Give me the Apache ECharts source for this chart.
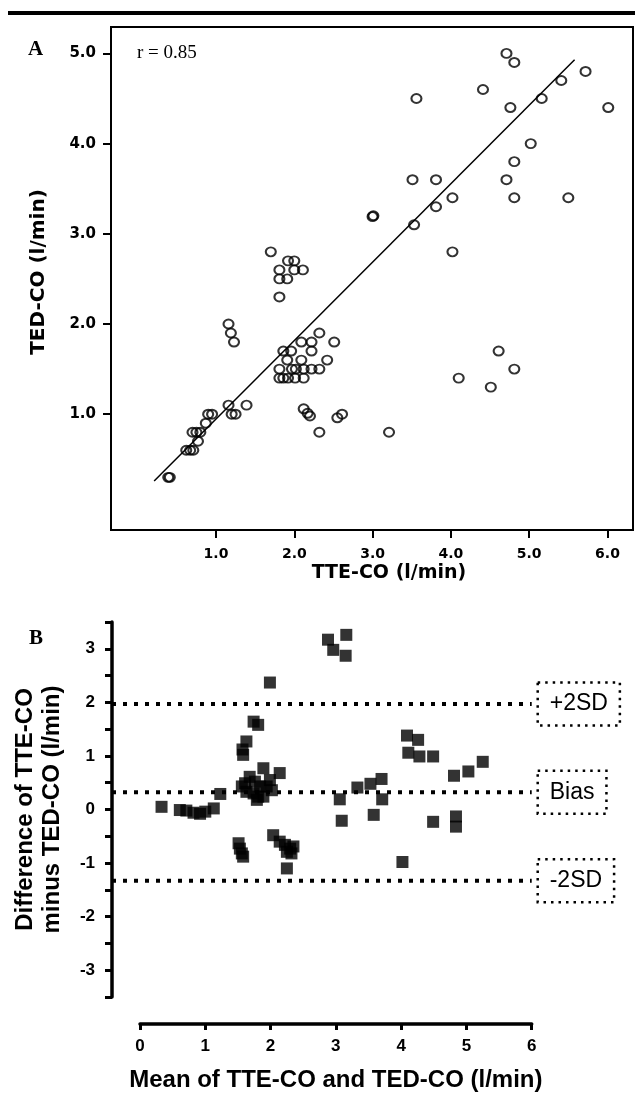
<!DOCTYPE html>
<html>
<head>
<meta charset="utf-8">
<script src="https://cdn.jsdelivr.net/npm/echarts@6/dist/echarts.min.js"></script>
<style>
html,body{margin:0;padding:0;background:#fff;}
#chart{width:635px;height:1095px;}
</style>
</head>
<body>
<div id="chart"></div>
<script>
// ---------- Panel A: TTE-CO vs TED-CO ----------
const tteA = [4.71,4.81,5.72,5.41,4.41,3.56,5.16,4.76,6.01,5.02,4.81,3.51,3.81,4.71,4.02,4.81,5.50,3.81,3.53,3.01,3.00,4.02,
  1.70,1.92,2.00,1.81,2.00,2.11,1.81,1.91,1.81,
  1.16,1.19,1.23,
  2.32,2.09,2.22,2.51,1.86,1.96,2.22,1.91,2.09,2.42,1.81,1.97,2.02,2.12,2.22,2.32,1.81,1.86,1.92,2.01,2.12,
  2.12,2.17,2.20,2.32,2.55,2.61,3.21,
  4.10,4.51,4.61,4.81,
  1.16,1.20,1.25,1.39,0.90,0.95,0.87,0.70,0.75,0.80,0.77,0.62,0.67,0.71,0.39,0.41];
const tedA = [5.0,4.9,4.8,4.7,4.6,4.5,4.5,4.4,4.4,4.0,3.8,3.6,3.6,3.6,3.4,3.4,3.4,3.3,3.1,3.2,3.19,2.8,
  2.8,2.7,2.7,2.6,2.6,2.6,2.5,2.5,2.3,
  2.0,1.9,1.8,
  1.9,1.8,1.8,1.8,1.7,1.7,1.7,1.6,1.6,1.6,1.5,1.5,1.5,1.5,1.5,1.5,1.4,1.4,1.4,1.4,1.4,
  1.06,1.01,0.98,0.8,0.96,1.0,0.8,
  1.4,1.3,1.7,1.5,
  1.1,1.0,1.0,1.1,1.0,1.0,0.9,0.8,0.8,0.8,0.7,0.6,0.6,0.6,0.3,0.3];
const fitX = [0.21, 5.58];
const fitY = [0.26, 4.93];
const xTicksA = [1,2,3,4,5,6];
const yTicksA = [1,2,3,4,5];
const corrText = 'r = 0.85';

// ---------- Panel B: Bland-Altman ----------
const meanB = [0.33,0.61,0.71,0.82,0.92,1.00,1.13,1.23,1.99,1.74,1.81,1.63,1.57,1.58,1.89,2.14,
  1.61,1.68,1.76,1.84,1.94,1.63,1.74,1.79,1.89,2.02,1.99,1.56,1.81,
  1.51,1.53,1.56,1.58,2.04,2.14,2.22,2.30,2.35,2.25,2.32,2.25,
  2.88,3.16,2.96,3.15,4.09,4.26,4.11,4.28,4.49,4.81,5.03,5.25,
  3.06,3.09,3.33,3.53,3.70,3.71,3.58,4.49,4.84,4.84,4.02];
const diffB = [0.05,-0.01,-0.02,-0.06,-0.08,-0.04,0.02,0.29,2.37,1.64,1.58,1.27,1.12,1.02,0.77,0.68,
  0.49,0.61,0.52,0.43,0.43,0.33,0.30,0.18,0.24,0.36,0.55,0.43,0.24,
  -0.63,-0.73,-0.82,-0.88,-0.48,-0.60,-0.66,-0.73,-0.69,-0.79,-0.82,-1.10,
  3.17,3.26,2.98,2.87,1.38,1.30,1.06,0.99,0.99,0.63,0.71,0.89,
  0.19,-0.21,0.41,0.48,0.57,0.19,-0.10,-0.23,-0.13,-0.32,-0.98];
const refNames = ['+2SD','Bias','-2SD'];
const refValues = [1.97, 0.32, -1.33];
const refXRange = [-0.43, 6.0];

const chart = echarts.init(document.getElementById('chart'), null, {renderer:'canvas'});

const pairs = (a,b) => a.map((v,i)=>[v,b[i]]);
const dv = 'DejaVu Sans';
const lib = 'Liberation Sans';

// reference lines live on an overlay grid whose x range starts at the offset y-axis line
const refSeries = refNames.map((nm,i)=>({
  type:'line', xAxisIndex:2, yAxisIndex:2, silent:true,
  symbol:'none', z:1,
  data: refXRange.map(x=>[x, refValues[i]]),
  lineStyle:{color:'#000', width:4, type:[4,7], cap:'butt'},
  endLabel:{
    show:true, formatter:nm, distance:6,
    fontFamily:lib, fontSize:23, color:'#000',
    padding:[10,12,10,12],
    borderColor:'#000', borderWidth:2.5, borderType:[2.5,5]
  }
}));

chart.setOption({
  animation:false,
  backgroundColor:'#fff',
  graphic:[
    {type:'line', shape:{x1:8,y1:13,x2:635,y2:13}, style:{stroke:'#000', lineWidth:4}},
    {type:'text', left:28, top:39, style:{text:'A', font:'bold 21px "Liberation Serif"', fill:'#000'}},
    {type:'text', left:29, top:628, style:{text:'B', font:'bold 21px "Liberation Serif"', fill:'#000'}},
    {type:'text', left:137, top:44, style:{text:corrText, font:'19px "Liberation Serif"', fill:'#000'}}
  ],
  grid:[
    {left:111, top:27, width:522, height:503, show:true, borderColor:'#000', borderWidth:2, containLabel:false},
    {left:140, top:622, width:391.7, height:375, containLabel:false},
    {left:112, top:622, width:419.7, height:375, containLabel:false}
  ],
  xAxis:[
    {gridIndex:0, type:'value', min:-0.341, max:6.326,
     name:'TTE-CO (l/min)', nameLocation:'middle', nameGap:34,
     nameTextStyle:{fontFamily:dv, fontWeight:'bold', fontSize:19, color:'#000', padding:[0,0,0,34]},
     axisLine:{show:true, onZero:false, lineStyle:{color:'#000', width:2}}, splitLine:{show:false},
     axisTick:{show:true, customValues:xTicksA, length:8, lineStyle:{color:'#000', width:2}},
     axisLabel:{customValues:xTicksA, formatter:v=>v.toFixed(1), margin:17, fontFamily:dv, fontWeight:'bold', fontSize:14, color:'#000'}
    },
    {gridIndex:1, type:'value', min:0, max:6, interval:1, offset:27,
     name:'Mean of TTE-CO and TED-CO (l/min)', nameLocation:'middle', nameGap:44,
     nameTextStyle:{fontFamily:lib, fontWeight:'bold', fontSize:24, color:'#000'},
     axisLine:{show:true, onZero:false, lineStyle:{color:'#000', width:3.5}}, splitLine:{show:false},
     axisTick:{show:true, length:6, lineStyle:{color:'#000', width:3}},
     axisLabel:{formatter:v=>String(v), margin:14, fontFamily:lib, fontWeight:'bold', fontSize:17, color:'#000'}
    },
    {gridIndex:2, type:'value', min:refXRange[0], max:refXRange[1], show:false}
  ],
  yAxis:[
    {gridIndex:0, type:'value', min:-0.284, max:5.293,
     name:'TED-CO (l/min)', nameLocation:'middle', nameGap:62, nameRotate:90,
     nameTextStyle:{fontFamily:dv, fontWeight:'bold', fontSize:20, color:'#000', padding:[0,0,0,13]},
     axisLine:{show:true, onZero:false, lineStyle:{color:'#000', width:2}}, splitLine:{show:false},
     axisTick:{show:true, customValues:yTicksA, length:8, lineStyle:{color:'#000', width:2}},
     axisLabel:{customValues:yTicksA, formatter:v=>v.toFixed(1), margin:15, fontFamily:dv, fontWeight:'bold', fontSize:15, color:'#000'}
    },
    {gridIndex:1, type:'value', min:-3.5, max:3.5, interval:0.5, offset:28,
     name:'Difference of TTE-CO\nminus TED-CO (l/min)', nameLocation:'middle', nameGap:46, nameRotate:90,
     nameTextStyle:{fontFamily:lib, fontWeight:'bold', fontSize:24, lineHeight:27, color:'#000'},
     axisLine:{show:true, onZero:false, lineStyle:{color:'#000', width:3.5}}, splitLine:{show:false},
     axisTick:{show:true, length:7, lineStyle:{color:'#000', width:3}},
     axisLabel:{formatter:v=>Number.isInteger(v)?String(v):'', margin:17, fontFamily:lib, fontWeight:'bold', fontSize:17, color:'#000'}
    },
    {gridIndex:2, type:'value', min:-3.5, max:3.5, show:false}
  ],
  series:[
    {type:'scatter', xAxisIndex:0, yAxisIndex:0, data:pairs(tteA,tedA),
     symbol:'circle', symbolSize:[10,9],
     itemStyle:{color:'rgba(0,0,0,0)', borderColor:'#000', borderWidth:2}, z:3},
    {type:'line', xAxisIndex:0, yAxisIndex:0, data:pairs(fitX,fitY), symbol:'none',
     lineStyle:{color:'#000', width:1.5}, z:2},
    {type:'scatter', xAxisIndex:1, yAxisIndex:1, data:pairs(meanB,diffB),
     symbol:'rect', symbolSize:12, itemStyle:{color:'#000'}, z:3},
    ...refSeries
  ]
});
</script>
</body>
</html>
